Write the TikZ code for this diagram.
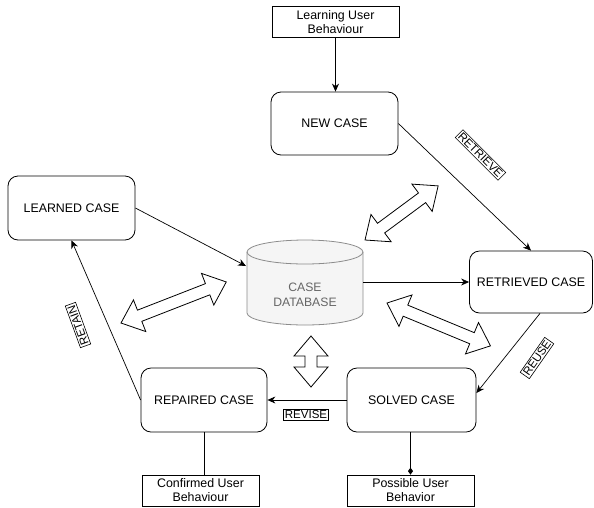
\documentclass[tikz,border=0pt]{standalone}
\usepackage{fontspec}
\setmainfont{Liberation Sans}
\usetikzlibrary{arrows.meta}
\newcommand\blockarrow[3]{%
  \begin{scope}[shift={(#1)},rotate=#2]
    \draw[blockar] (0,0) -- (20,17) -- (20,6) -- ({#3-20},6) -- ({#3-20},17) -- (#3,0)
      -- ({#3-20},-17) -- ({#3-20},-6) -- (20,-6) -- (20,-17) -- cycle;
  \end{scope}}
\begin{document}
\begin{tikzpicture}[x=1pt,y=-1pt,
  casebox/.style={draw, rounded corners=10pt, line width=0.8pt, inner sep=0pt,
    minimum height=64pt, align=center, font=\fontsize{12.4}{14}\selectfont},
  infobox/.style={draw, line width=0.8pt, inner sep=0pt, minimum height=31pt,
    align=center, font=\fontsize{12.4}{14}\selectfont},
  lbl/.style={draw, line width=0.6pt, inner sep=1.5pt, fill=white,
    font=\fontsize{11.5}{13}\selectfont},
  conn/.style={line width=0.7pt},
  tip/.style={-{Stealth[length=8pt,width=7pt]}},
  blockar/.style={draw, fill=white, line width=0.8pt, line join=miter},
  dbtext/.style={align=center, text=black!60, font=\fontsize{12.2}{14.5}\selectfont}
]
\useasboundingbox (0,0) rectangle (594,507);

% nodes
\node[infobox, minimum width=127pt] (learning) at (335.5,22) {Learning User\\Behaviour};
\node[casebox, minimum width=127pt, minimum height=63pt] (new) at (334.5,123.5) {NEW CASE};
\node[casebox, minimum width=127pt] (learned) at (71.5,208) {LEARNED CASE};
\node[casebox, minimum width=123pt, minimum height=62pt] (retrieved) at (531,282) {RETRIEVED CASE};
\node[casebox, minimum width=129pt] (solved) at (411.5,400) {SOLVED CASE};
\node[casebox, minimum width=126pt] (repaired) at (204,400) {REPAIRED CASE};
\node[infobox, minimum width=117pt] (confirmed) at (200.5,490.5) {Confirmed User\\Behaviour};
\node[infobox, minimum width=127pt] (possible) at (410.5,490.5) {Possible User\\Behavior};

% database cylinder
\filldraw[fill=black!4, draw=black!45, line width=0.8pt]
  (247,252) -- (247,313) arc[start angle=180, end angle=360, x radius=58pt, y radius=12pt]
  -- (363,252) arc[start angle=0, end angle=180, x radius=58pt, y radius=12pt] -- cycle;
\draw[draw=black!45, line width=0.8pt]
  (247,252) arc[start angle=180, end angle=360, x radius=58pt, y radius=12pt];
\node[dbtext] (db) at (305,295) {CASE\\DATABASE};
\coordinate (dbW) at (246,266);
\coordinate (dbE) at (363,282);

% connectors
\draw[conn, tip] (learning.south) -- (learning.south |- new.north);
\draw[conn, tip] (new.east) -- (retrieved.north);
\draw[conn, tip] (learned.east) -- (dbW);
\draw[conn, tip] (dbE) -- (retrieved.west);
\draw[conn, tip] ([xshift=9pt]retrieved.south) -- ([yshift=7pt]solved.east);
\draw[conn, tip] (solved.west) -- (repaired.east);
\draw[conn, tip] (repaired.west) -- (learned.south);
\draw[conn] (repaired.south) -- (repaired.south |- confirmed.north);
\draw[conn, -{Diamond[length=7pt,width=5pt]}] ([xshift=-1pt]solved.south) -- ([xshift=-1pt]solved.south |- possible.north);

% labels
\node[lbl, rotate=-45] (lretrieve) at (480.5,155) {RETRIEVE};
\node[lbl, rotate=55] (lreuse) at (537,358) {REUSE};
\node[lbl] (lrevise) at (306,415) {REVISE};
\node[lbl, rotate=110] (lretain) at (78,325) {RETAIN};

% hollow double arrows
\blockarrow{365,240}{36.5}{91}
\blockarrow{121,323}{21.3}{113}
\blockarrow{387,303}{-22.5}{112}
\blockarrow{311,387}{90}{51}
\end{tikzpicture}
\end{document}
